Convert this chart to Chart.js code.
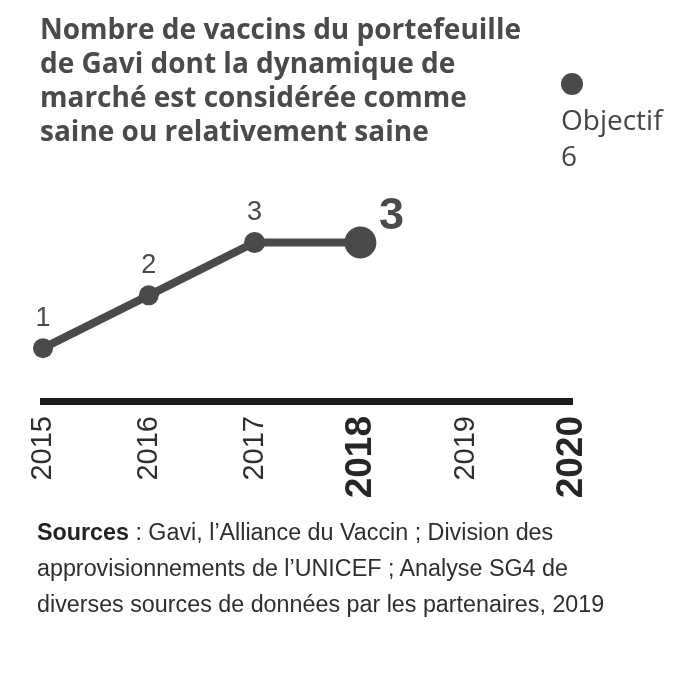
<!DOCTYPE html>
<html lang="fr">
<head>
<meta charset="utf-8">
<script src="https://cdn.jsdelivr.net/npm/chart.js@4"></script>
<style>
  html, body { margin: 0; padding: 0; background: #fff; }
  #wrap { position: relative; width: 700px; height: 700px; overflow: hidden; }
  #chart { position: absolute; left: 0; top: 0; }
  #title {
    position: absolute; left: 40px; top: 11px; width: 520px;
    font-family: "Open Sans", sans-serif; font-weight: 700; font-size: 28px;
    line-height: 34px; color: #4a4a4a;
  }
  #sources {
    position: absolute; left: 37px; top: 514px; width: 660px;
    font-family: "Liberation Sans", Arial, sans-serif; font-size: 23.3px;
    line-height: 36px; color: #2e2e2e;
  }
  #sources b { color: #222; }
</style>
</head>
<body>
<div id="wrap">
  <canvas id="chart" width="700" height="700"></canvas>
  <div id="title">Nombre de vaccins du portefeuille<br>de Gavi dont la dynamique de<br>marché est considérée comme<br>saine ou relativement saine</div>
  <div id="sources"><b>Sources</b> : Gavi, l’Alliance du Vaccin ; Division des<br>approvisionnements de l’UNICEF ; Analyse SG4 de<br>diverses sources de données par les partenaires, 2019</div>
</div>
<script>
  // Data
  const years = ["2015", "2016", "2017", "2018", "2019", "2020"];
  const healthyVaccines = [1, 2, 3, 3, null, null];
  const targetValues = [null, null, null, null, null, 6];
  const highlightYears = ["2018", "2020"];
  const targetLabel = ["Objectif", "6"];

  const markColor = "#4a4a4a";

  // value labels above the points, the last one is big and bold on the right
  const valueLabels = {
    id: "valueLabels",
    afterDatasetsDraw(chart) {
      const ctx = chart.ctx;
      const meta = chart.getDatasetMeta(0);
      const lastIdx = healthyVaccines.reduce((a, v, i) => (v !== null ? i : a), -1);
      ctx.save();
      ctx.fillStyle = markColor;
      ctx.textAlign = "center";
      ctx.textBaseline = "middle";
      healthyVaccines.forEach((v, i) => {
        if (v === null) return;
        const pt = meta.data[i];
        if (i === lastIdx) {
          ctx.font = "bold 45px 'Liberation Sans', Arial, sans-serif";
          ctx.fillText(String(v), pt.x + 31, pt.y - 26);
        } else {
          ctx.font = "27px 'Liberation Sans', Arial, sans-serif";
          ctx.fillText(String(v), pt.x, pt.y - 30);
        }
      });

      // target label under its dot
      const tMeta = chart.getDatasetMeta(1);
      const tIdx = targetValues.findIndex((v) => v !== null);
      const tp = tMeta.data[tIdx];
      ctx.textAlign = "left";
      ctx.fillStyle = "#444";
      ctx.font = "28px 'Open Sans', sans-serif";
      ctx.fillText(targetLabel[0], tp.x - 11, tp.y + 38);
      ctx.fillText(targetLabel[1], tp.x - 11, tp.y + 74);
      ctx.restore();
    },
  };

  new Chart(document.getElementById("chart").getContext("2d"), {
    type: "line",
    data: {
      labels: years,
      datasets: [
        {
          label: "Vaccins",
          data: healthyVaccines,
          borderColor: markColor,
          backgroundColor: markColor,
          borderWidth: 8,
          pointRadius: [10, 10, 10.5, 16, 0, 0],
          pointHoverRadius: [10, 10, 10.5, 16, 0, 0],
          pointBorderWidth: 0,
          tension: 0,
          clip: false,
        },
        {
          label: "Objectif",
          data: targetValues,
          borderColor: markColor,
          backgroundColor: markColor,
          showLine: false,
          pointRadius: 11,
          pointBorderWidth: 0,
          clip: false,
        },
      ],
    },
    options: {
      responsive: false,
      animation: false,
      layout: { padding: { left: 43, right: 128, top: 84, bottom: 0 } },
      plugins: {
        legend: { display: false },
        tooltip: { enabled: false },
        title: { display: false },
      },
      scales: {
        y: { display: false, min: 0, max: 6 },
        x: {
          offset: false,
          grid: { display: false, drawTicks: false },
          border: { display: true, width: 7, color: "#1c1c1c" },
          afterFit: (scale) => { scale.height = 299; },
          ticks: {
            autoSkip: false,
            minRotation: 90,
            maxRotation: 90,
            padding: 15,
            color: (c) => (highlightYears.includes(years[c.index]) ? "#262626" : "#2e2e2e"),
            font: (c) =>
              highlightYears.includes(years[c.index])
                ? { family: "'Liberation Sans', Arial, sans-serif", size: 37, weight: "bold" }
                : { family: "'Liberation Sans', Arial, sans-serif", size: 29 },
          },
        },
      },
    },
    plugins: [valueLabels],
  });
</script>
</body>
</html>
